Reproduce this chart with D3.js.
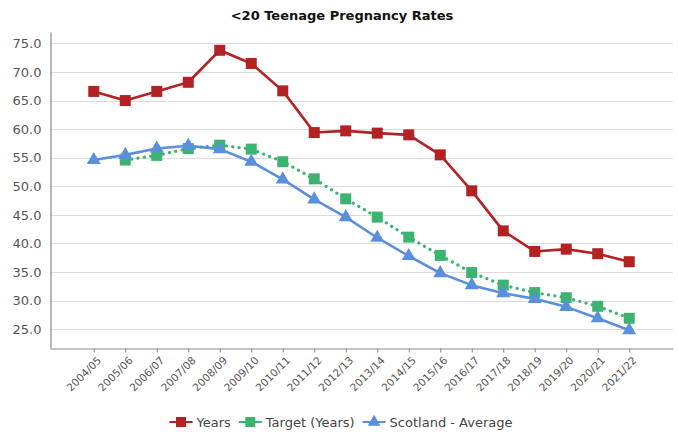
<!DOCTYPE html>
<html>
<head>
<meta charset="utf-8">
<script src="https://cdn.jsdelivr.net/npm/d3@7"></script>
<style>
  html, body { margin: 0; padding: 0; background: #fff; }
  svg { display: block; }
</style>
</head>
<body>
<svg id="chart" width="678" height="435"></svg>
<script>
const categories = ["2004/05","2005/06","2006/07","2007/08","2008/09","2009/10","2010/11","2011/12","2012/13","2013/14","2014/15","2015/16","2016/17","2017/18","2018/19","2019/20","2020/21","2021/22"];
const yearsValues = [66.6, 65.0, 66.6, 68.2, 73.8, 71.5, 66.7, 59.4, 59.7, 59.3, 59.0, 55.5, 49.2, 42.2, 38.6, 39.0, 38.2, 36.8];
const targetValues = [null, 54.6, 55.4, 56.6, 57.2, 56.5, 54.3, 51.3, 47.8, 44.6, 41.1, 37.9, 34.9, 32.7, 31.4, 30.5, 29.0, 26.9];
const scotlandValues = [54.6, 55.5, 56.6, 57.1, 56.5, 54.3, 51.2, 47.7, 44.6, 41.0, 37.8, 34.8, 32.7, 31.3, 30.3, 28.9, 26.9, 24.8];
const yTicks = [25, 30, 35, 40, 45, 50, 55, 60, 65, 70, 75];
const title = "<20 Teenage Pregnancy Rates";
const seriesNames = ["Years", "Target (Years)", "Scotland - Average"];

(function () {
const svg = d3.select("#chart");
const pLeft = 50, pRight = 673, pTop = 32, pBottom = 348;

const x = d3.scalePoint().domain(categories).range([pLeft, pRight]).padding(1.39);
const y = d3.scaleLinear().domain([21.7, 77]).range([pBottom, pTop]);

const font = "'DejaVu Sans', Verdana, sans-serif";

svg.append("text")
  .attr("x", 342).attr("y", 20)
  .attr("text-anchor", "middle")
  .attr("font-family", font).attr("font-weight", "bold").attr("font-size", 13)
  .attr("fill", "#111")
  .text(title);

svg.append("g")
  .selectAll("line").data(yTicks).join("line")
  .attr("x1", pLeft).attr("x2", pRight)
  .attr("y1", d => Math.round(y(d)) + 0.5).attr("y2", d => Math.round(y(d)) + 0.5)
  .attr("stroke", "#dcdcdc").attr("stroke-width", 1);

const yAxis = svg.append("g")
  .attr("transform", `translate(${pLeft + 0.5},0)`)
  .call(d3.axisLeft(y).tickValues(yTicks).tickFormat(d3.format(".1f")).tickSize(0).tickPadding(9));
yAxis.select(".domain").attr("stroke", "#8a8a8a").attr("stroke-width", 1.2);
yAxis.selectAll("text").attr("font-family", font).attr("font-size", 13).attr("fill", "#555");

const xAxis = svg.append("g")
  .attr("transform", `translate(0,${pBottom + 0.5})`)
  .call(d3.axisBottom(x).tickSize(4).tickSizeOuter(0));
xAxis.select(".domain").attr("stroke", "#8a8a8a").attr("stroke-width", 1.2);
xAxis.selectAll(".tick line").attr("stroke", "#8a8a8a");
xAxis.selectAll("text")
  .attr("font-family", font).attr("font-size", 10.5).attr("fill", "#555")
  .attr("text-anchor", "end")
  .attr("dy", "0.35em")
  .attr("transform", "translate(5,10) rotate(-45)")
  .attr("y", 0).attr("x", 0);

const colors = ["#b22222", "#3cb371", "#5a8fdc"];
const seriesData = [yearsValues, targetValues, scotlandValues];

const line = d3.line()
  .defined(d => d.v != null)
  .x(d => x(d.c)).y(d => y(d.v));

const sq = 11;
const triSym = d3.symbol().type(d3.symbolTriangle).size(85);

seriesData.forEach((vals, si) => {
  const pts = categories.map((c, i) => ({ c, v: vals[i] }));
  const g = svg.append("g");
  const path = g.append("path").datum(pts)
    .attr("d", line)
    .attr("fill", "none")
    .attr("stroke", colors[si])
    .attr("stroke-width", si === 1 ? 3.2 : 2.6)
    .attr("stroke-linejoin", "round");
  if (si === 1) path.attr("stroke-dasharray", "0.1,6.3").attr("stroke-linecap", "round");
  const valid = pts.filter(d => d.v != null);
  if (si < 2) {
    g.selectAll("rect").data(valid).join("rect")
      .attr("x", d => x(d.c) - sq / 2).attr("y", d => y(d.v) - sq / 2)
      .attr("width", sq).attr("height", sq)
      .attr("fill", colors[si]);
  } else {
    g.selectAll("path.m").data(valid).join("path").attr("class", "m")
      .attr("transform", d => `translate(${x(d.c)},${y(d.v)})`)
      .attr("d", triSym)
      .attr("fill", colors[si]);
  }
});

const legend = svg.append("g");
let cx = 0;
const ly = 422;
seriesNames.forEach((name, si) => {
  const item = legend.append("g").attr("transform", `translate(${cx},0)`);
  item.append("line").attr("x1", 0).attr("x2", 23).attr("y1", ly).attr("y2", ly)
    .attr("stroke", colors[si]).attr("stroke-width", 2);
  if (si < 2) {
    item.append("rect").attr("x", 11.5 - 5).attr("y", ly - 5).attr("width", 10).attr("height", 10).attr("fill", colors[si]);
  } else {
    item.append("path").attr("transform", `translate(11.5,${ly})`).attr("d", d3.symbol().type(d3.symbolTriangle).size(70)).attr("fill", colors[si]);
  }
  const t = item.append("text").attr("x", 27).attr("y", ly).attr("dy", "0.35em")
    .attr("font-family", font).attr("font-size", 13).attr("fill", "#444").text(name);
  cx += 27 + t.node().getComputedTextLength() + 8;
});
const lw = cx - 8;
legend.attr("transform", `translate(${341 - lw / 2},0)`);
})();
</script>
</body>
</html>
